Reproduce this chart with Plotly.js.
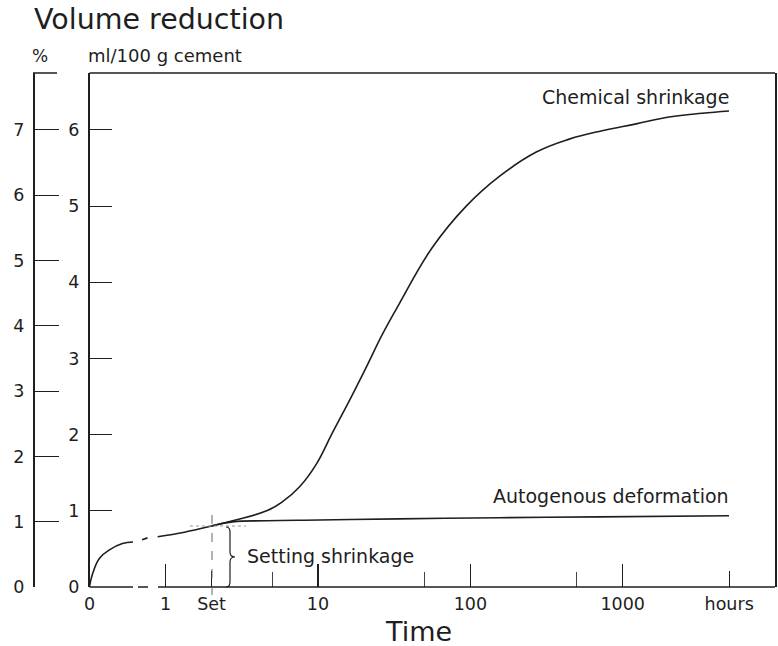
<!DOCTYPE html>
<html>
<head>
<meta charset="utf-8">
<script src="https://cdn.plot.ly/plotly-3.0.1.min.js"></script>
<style>html,body{margin:0;padding:0;background:#fff;}#chart{width:778px;height:646px;}</style>
</head>
<body>
<div id="chart"></div>
<script>
// ---- data (hours, ml/100 g cement) ----
const earlyHours = [0.316, 0.332, 0.369, 0.43, 0.52, 0.61];
const earlyVal   = [0, 0.18, 0.38, 0.49, 0.57, 0.59];
const gapHours   = [0.70, 0.76];
const gapVal     = [0.62, 0.645];
const chemHours  = [0.886, 1.33, 2.0, 2.75, 4.6, 5.85, 7.6, 9.8, 12.4, 16.1, 20.8, 26.5, 34.2, 56, 94, 155, 271, 446, 734, 1227, 2018, 3319, 4990];
const chemVal    = [0.66, 0.72, 0.80, 0.87, 1.0, 1.12, 1.32, 1.62, 2.02, 2.45, 2.89, 3.32, 3.72, 4.45, 5.0, 5.39, 5.71, 5.88, 5.99, 6.08, 6.17, 6.22, 6.25];
const autoHours  = [2.0, 2.75, 4.6, 10.2, 34, 155, 700, 4990];
const autoVal    = [0.80, 0.855, 0.87, 0.88, 0.895, 0.91, 0.92, 0.935];
const mlTicks    = [0, 1, 2, 3, 4, 5, 6];
const pctTicks   = [0, 1, 2, 3, 4, 5, 6, 7];
const xMajorVals = [1, 10, 100, 1000];
const xMajorText = ['1', '10', '100', '1000'];
const xMinorVals = [5, 50, 500];
const xExtraVals = [0.316, 2, 5000];
const xExtraText = ['0', 'Set', 'hours'];

// ---- layout helpers (pixel -> paper) ----
const W = 778, TOP = 73, BOT = 587, H = BOT - TOP;
const px = x => x / W;
const py = y => (BOT - y) / H;
const ink = '#1e1e1e';
const FONT = 'DejaVu Sans, Liberation Sans, Arial, sans-serif';

function line(x0, y0, x1, y1, extra) {
  return Object.assign({type: 'line', xref: 'paper', yref: 'paper',
    x0: px(x0), y0: py(y0), x1: px(x1), y1: py(y1),
    line: {color: ink, width: 1.5}}, extra || {});
}

function bracePath(){
  const segs = [
    ['M', [[226, 527]]], ['Q', [[230, 527], [230, 532]]], ['L', [[230, 552]]], ['Q', [[230, 557], [235, 557]]],
    ['Q', [[230, 557], [230, 562]]], ['L', [[230, 582]]], ['Q', [[230, 587], [226, 587]]]
  ];
  return segs.map(s => s[0] + ' ' + s[1].map(p => px(p[0]).toFixed(5) + ',' + py(p[1]).toFixed(5)).join(' ')).join(' ');
}

const lineStyle = {color: ink, width: 1.6, shape: 'spline', smoothing: 1.2};
const traces = [
  {x: earlyHours, y: earlyVal, mode: 'lines', line: lineStyle, hoverinfo: 'skip', showlegend: false},
  {x: gapHours, y: gapVal, mode: 'lines', line: {color: ink, width: 1.6}, hoverinfo: 'skip', showlegend: false},
  {x: chemHours, y: chemVal, mode: 'lines', line: lineStyle, hoverinfo: 'skip', showlegend: false},
  {x: autoHours, y: autoVal, mode: 'lines', line: lineStyle, xaxis: 'x2', hoverinfo: 'skip', showlegend: false},
  {x: [], y: [], yaxis: 'y2', mode: 'lines', showlegend: false, hoverinfo: 'skip'}
];

const xr = [-0.5, 4.0];
const tickFont = {family: FONT, size: 17.5, color: ink};
const layout = {
  width: 778, height: 646,
  margin: {l: 0, r: 0, t: TOP, b: 646 - BOT},
  paper_bgcolor: '#fff', plot_bgcolor: '#fff',
  showlegend: false,
  xaxis: {
    type: 'log', range: xr, domain: [px(89.5), px(775)],
    showline: false, showgrid: false, zeroline: false,
    tickmode: 'array', tickvals: xMajorVals, ticktext: xMajorText,
    ticks: 'inside', ticklen: 23, tickwidth: 1.2, tickcolor: ink,
    tickfont: tickFont, ticklabelstandoff: 4,
    minor: {tickvals: xMinorVals, ticks: 'inside', ticklen: 15, tickwidth: 1, tickcolor: '#444', showgrid: false}
  },
  xaxis2: {
    type: 'log', range: xr, overlaying: 'x', anchor: 'y', side: 'bottom',
    showline: false, showgrid: false, zeroline: false,
    tickmode: 'array', tickvals: xExtraVals, ticktext: xExtraText,
    ticks: 'inside', ticklen: 16, tickwidth: 1, tickcolor: ink,
    tickfont: tickFont, ticklabelstandoff: 4
  },
  yaxis: {
    range: [0, H / 76.17], domain: [0, 1],
    showline: true, mirror: true, linecolor: ink, linewidth: 1.5,
    showgrid: false, zeroline: false,
    tickmode: 'array', tickvals: mlTicks,
    ticks: 'inside', ticklen: 22, tickwidth: 1, tickcolor: ink,
    tickfont: tickFont, ticklabelstandoff: 5
  },
  yaxis2: {
    range: [0, H / 65.29], overlaying: 'y', anchor: 'free', position: px(33), side: 'left',
    showline: true, linecolor: ink, linewidth: 1.5,
    showgrid: false, zeroline: false,
    tickmode: 'array', tickvals: pctTicks,
    ticks: 'inside', ticklen: 24, tickwidth: 1, tickcolor: ink,
    tickfont: tickFont, ticklabelstandoff: 5
  },
  shapes: [
    line(89.5, BOT, 133, BOT),
    line(138, BOT, 148, BOT),
    line(158, BOT, 775, BOT),
    line(89.5, TOP, 775, TOP),
    line(33, TOP, 57, TOP),
    line(212, 515, 212, 595, {line: {color: '#666', width: 1, dash: 'dash'}}),
    line(190, 526, 246, 526, {line: {color: '#999', width: 1, dash: 'dot'}}),
    {type: 'path', xref: 'paper', yref: 'paper', path: bracePath(), line: {color: ink, width: 1.2}}
  ],
  annotations: [
    {text: 'Volume reduction', xref: 'paper', yref: 'paper', x: px(32), y: py(20), xanchor: 'left', yanchor: 'middle', showarrow: false, font: {family: FONT, size: 28.5, color: ink}},
    {text: '%', xref: 'paper', yref: 'paper', x: px(40), y: py(56), xanchor: 'center', yanchor: 'middle', showarrow: false, font: {family: FONT, size: 17, color: ink}},
    {text: 'ml/100 g cement', xref: 'paper', yref: 'paper', x: px(86), y: py(56), xanchor: 'left', yanchor: 'middle', showarrow: false, font: {family: FONT, size: 18, color: ink}},
    {text: 'Chemical shrinkage', xref: 'paper', yref: 'paper', x: px(731), y: py(97), xanchor: 'right', yanchor: 'middle', showarrow: false, font: {family: FONT, size: 19, color: ink}},
    {text: 'Autogenous deformation', xref: 'paper', yref: 'paper', x: px(731), y: py(496), xanchor: 'right', yanchor: 'middle', showarrow: false, font: {family: FONT, size: 19, color: ink}},
    {text: 'Setting shrinkage', xref: 'paper', yref: 'paper', x: px(245), y: py(556), xanchor: 'left', yanchor: 'middle', showarrow: false, font: {family: FONT, size: 19, color: ink}},
    {text: 'Time', xref: 'paper', yref: 'paper', x: px(418), y: py(631), xanchor: 'center', yanchor: 'middle', showarrow: false, font: {family: FONT, size: 27, color: ink}}
  ]
};

Plotly.newPlot('chart', traces, layout, {displayModeBar: false, staticPlot: true});
</script>
</body>
</html>
